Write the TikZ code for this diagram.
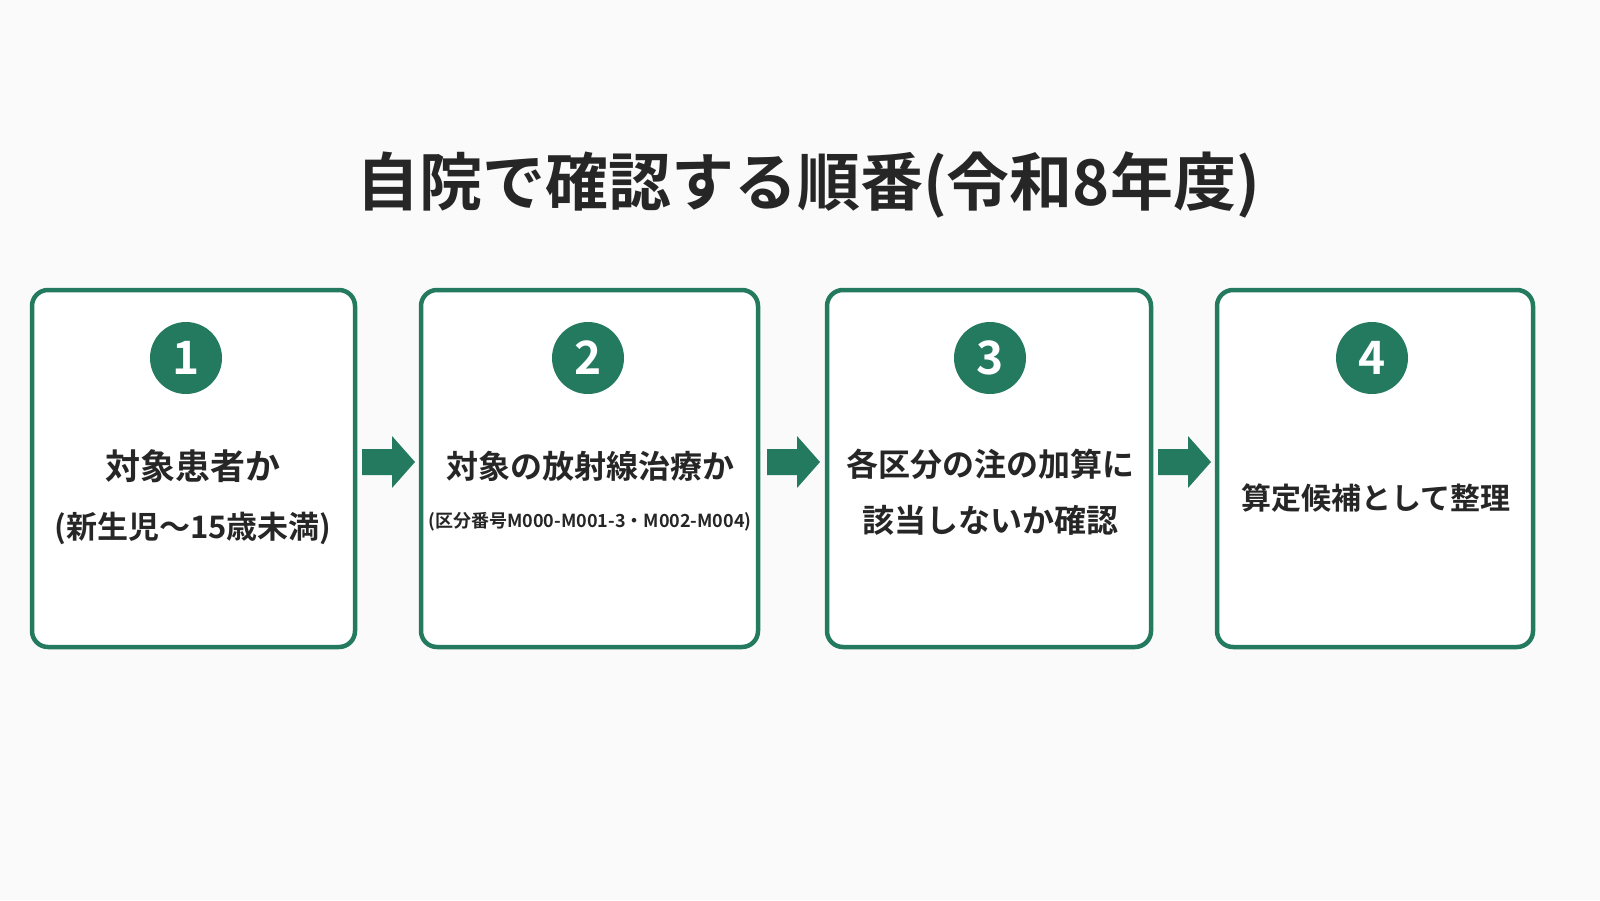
\documentclass[tikz,border=0pt]{standalone}
\usepackage{fontspec}
\setmainfont{Noto Sans CJK JP}[BoldFont={Noto Sans CJK JP Bold}]
\definecolor{grn}{HTML}{237A5E}
\definecolor{bg}{HTML}{FAFAFA}
\begin{document}
\begin{tikzpicture}[x=1pt,y=-1pt,
  box/.style={draw=grn,line width=4.5pt,rounded corners=16pt,fill=white},
  num/.style={circle,fill=grn,minimum size=72pt,inner sep=0,text=white,font=\fontsize{46}{46}\selectfont\bfseries},
  txt/.style={font=\fontsize{31}{31}\selectfont\bfseries,text=black!85,inner sep=0},
  arr/.style={fill=grn,draw=none}]
\fill[bg] (0,0) rectangle (1600,900);
\useasboundingbox (0,0) rectangle (1600,900);
\node[font=\fontsize{63}{63}\selectfont\bfseries,text=black!85] (title) at (808,185) {自院で確認する順番(令和8年度)};
\draw[box] (32,290) rectangle (355,647);
\draw[box] (421,290) rectangle (758,647);
\draw[box] (827,290) rectangle (1151,647);
\draw[box] (1217,290) rectangle (1533,647);
\node[num] (n1) at (186,358) {1};
\node[num] (n2) at (588,358) {2};
\node[num] (n3) at (990,358) {3};
\node[num] (n4) at (1372,358) {4};
\node[txt,font=\fontsize{35}{35}\selectfont\bfseries] (t1a) at (193,466) {対象患者か};
\node[txt] (t1b) at (193,528) {(新生児〜15歳未満)};
\node[txt,font=\fontsize{32}{32}\selectfont\bfseries] (t2a) at (590,466) {対象の放射線治療か};
\node[txt,font=\fontsize{18}{18}\selectfont\bfseries] (t2b) at (590,522) {(区分番号M000-M001-3・M002-M004)};
\node[txt,font=\fontsize{32}{32}\selectfont\bfseries] (t3a) at (990,464) {各区分の注の加算に};
\node[txt,font=\fontsize{32}{32}\selectfont\bfseries] (t3b) at (990,520) {該当しないか確認};
\node[txt,font=\fontsize{30}{30}\selectfont\bfseries] (t4) at (1376,498) {算定候補として整理};
\foreach \x in {362,767,1158}{
  \fill[arr] (\x,449) -- (\x+30,449) -- (\x+30,436) -- (\x+53,462) -- (\x+30,488) -- (\x+30,475) -- (\x,475) -- cycle;
}
\end{tikzpicture}
\end{document}
